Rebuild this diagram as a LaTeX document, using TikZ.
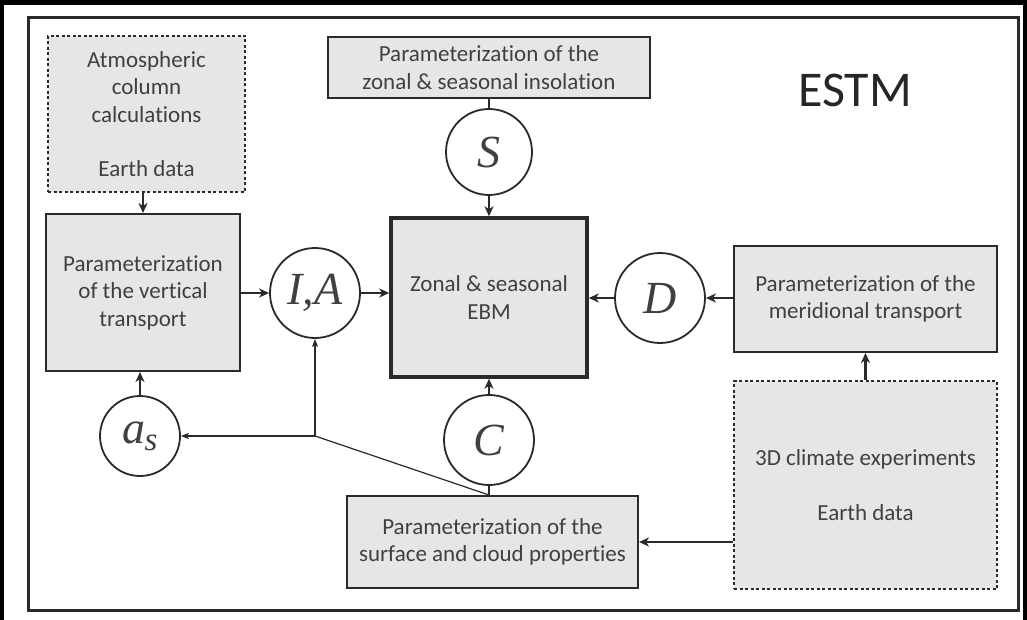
\documentclass[tikz,border=0pt]{standalone}
\usepackage{fontspec}
\setmainfont{Carlito}[Ligatures=NoCommon]
\newfontfamily\tnr{Liberation Serif}
\usetikzlibrary{arrows.meta}
\definecolor{boxfill}{HTML}{E6E6E6}
\definecolor{linec}{HTML}{2A2A2A}
\definecolor{txt}{HTML}{404040}
\begin{document}
\begin{tikzpicture}[x=1pt,y=-1pt,
 box/.style={draw=linec, fill=boxfill, line width=2pt, inner sep=0pt, align=center, text=txt, font=\fontsize{23}{27.5}\selectfont},
 dotbox/.style={box, line width=2.2pt, dash pattern=on 3pt off 2.5pt},
 var/.style={circle, draw=linec, fill=white, line width=1.8pt, minimum size=90pt, inner sep=0pt, text=txt, font=\tnr\itshape\fontsize{46}{46}\selectfont},
 arr/.style={draw=linec, line width=2.5pt, -{Stealth[length=10pt,width=9pt,inset=3pt]}},
 link/.style={draw=linec, line width=2.5pt},
 tarr/.style={draw=linec, line width=1.2pt, -{Stealth[length=8pt,width=6pt,inset=2pt]}},
 tlink/.style={draw=linec, line width=1.2pt}]
\useasboundingbox (0,0) rectangle (1027,620);
\fill[white] (0,0) rectangle (1027,620);
\fill[black] (0,0) rectangle (1027,5);
\fill[black] (0,0) rectangle (4,620);
\fill[black] (1023,0) rectangle (1027,620);
\draw[line width=3.2pt, draw=linec] (28.5,17.5) rectangle (1018.5,610.5);

\node[dotbox, minimum width=197pt, minimum height=156pt] (atm) at (146.5,114) {Atmospheric\\column\\calculations\\[27pt]Earth data};
\node[box, minimum width=194pt, minimum height=157pt] (vert) at (143,292.5) {Parameterization\\of the vertical\\transport};
\node[box, minimum width=322pt, minimum height=61pt] (ins) at (489,67.5) {Parameterization of the\\zonal \& seasonal insolation};
\node[box, line width=3.5pt, minimum width=196pt, minimum height=159pt] (ebm) at (489,297.5) {Zonal \& seasonal\\EBM};
\node[box, minimum width=263pt, minimum height=106pt] (mer) at (865.5,299) {Parameterization of the\\meridional transport};
\node[dotbox, minimum width=263pt, minimum height=208pt] (exp) at (865.5,485) {3D climate experiments\\[28pt]Earth data};
\node[box, minimum width=291pt, minimum height=92pt] (surf) at (492.5,542) {Parameterization of the\\surface and cloud properties};

\node[var] (IA) at (315,293) {I,A};
\node[var, minimum size=86pt] (S) at (489,152) {S};
\node[var] (D) at (660,298) {D};
\node[var] (C) at (489,440) {C};
\node[var, minimum size=80pt] (as) at (140,436) {a\kern-1pt\raisebox{-7pt}{\fontsize{33}{33}\selectfont s}};

\node[font=\fontsize{50}{50}\selectfont, text=black!85] (estm) at (855,90) {ESTM};

\coordinate (J) at (IA |- as);

\draw[arr] (atm.south -| vert.north) -- (vert.north);
\draw[arr] (vert.east |- IA) -- (IA.west);
\draw[arr] (IA.east) -- (ebm.west |- IA);
\draw[link] (ins.south -| S) -- (S.north);
\draw[arr] (S.south) -- (ebm.north -| S);
\draw[arr] (mer.west |- D) -- (D.east);
\draw[arr] (D.west) -- (ebm.east |- D);
\draw[link] (surf.north -| C) -- (C.south);
\draw[arr] (C.north) -- (ebm.south -| C);
\draw[arr] (as.north) -- (vert.south -| as);
\draw[arr] (exp.north -| mer) -- (mer.south);
\draw[arr] (exp.west |- surf) -- (surf.east);
\draw[tlink] (surf.north -| C) -- (J);
\draw[tarr] (J) -- (as.east);
\draw[tarr] (J) -- (IA.south);
\end{tikzpicture}
\end{document}
